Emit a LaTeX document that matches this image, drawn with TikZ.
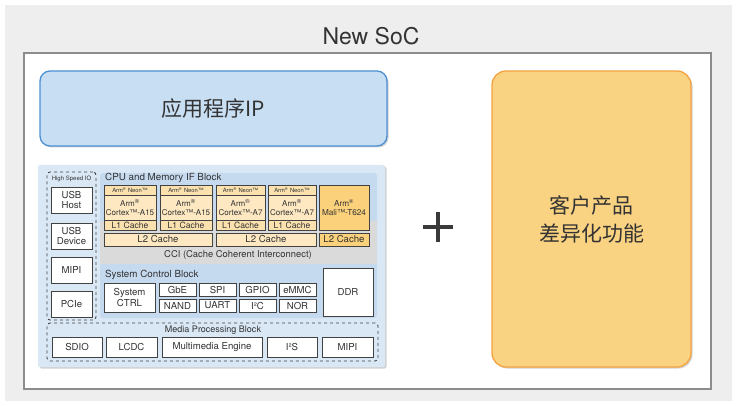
\documentclass[tikz,border=0pt]{standalone}
\usepackage{fontspec}
\setmainfont{TeX Gyre Heros}
\newfontfamily\cjk{Noto Sans CJK SC}
\usetikzlibrary{shadows}
\definecolor{bggray}{HTML}{EEEEEE}
\definecolor{frameline}{HTML}{8C8C8C}
\definecolor{bluefill}{HTML}{C8DEF3}
\definecolor{blueline}{HTML}{4C8FD3}
\definecolor{orangefill}{HTML}{FAD382}
\definecolor{orangeline}{HTML}{F4A340}
\definecolor{chipfill}{HTML}{DAE8F6}
\definecolor{cpufill}{HTML}{C5D9EF}
\definecolor{ccigray}{HTML}{DADADA}
\definecolor{corefill}{HTML}{FDE8C2}
\definecolor{neonfill}{HTML}{FBE1AE}
\definecolor{malifill}{HTML}{FBD27B}
\definecolor{linec}{HTML}{424242}
\definecolor{txt}{HTML}{333333}
\definecolor{plusgray}{HTML}{3A3A3A}
\newcommand\mybox[7]{\node[#1, minimum width={(#4)-(#2)}, minimum height={(#5)-(#3)}] (#6) at ({((#2)+(#4))/2},{((#3)+(#5))/2}) {#7};}
\tikzset{
  cell/.style={draw=linec, fill=white, line width=0.8, inner sep=0, outer sep=0, align=center, text=txt, font=\fontsize{9.6}{10.6}\selectfont},
  neoncell/.style={cell, fill=neonfill, font=\fontsize{5.8}{6}\selectfont},
  corecell/.style={cell, fill=corefill, font=\fontsize{8}{8.8}\selectfont},
  l1cell/.style={cell, fill=neonfill, font=\fontsize{8.6}{9}\selectfont},
  l2cell/.style={cell, fill=corefill, font=\fontsize{9.6}{10}\selectfont},
  malicell/.style={cell, fill=malifill, font=\fontsize{8.2}{9}\selectfont},
  dashbox/.style={draw=linec, dashed, line width=0.9, rounded corners=3, inner sep=0, outer sep=0},
  panel/.style={inner sep=0, outer sep=0},
  title/.style={inner sep=0, text=txt, font=\fontsize{9.8}{10}\selectfont},
  bigbox/.style={inner sep=0, outer sep=0, align=center, text=txt, line width=1.3},
  shad/.style={drop shadow={shadow xshift=1.5pt, shadow yshift=-1.5pt, opacity=0.18, fill=black}}
}
\begin{document}
\begin{tikzpicture}[x=1pt,y=-1pt]
\useasboundingbox (0,0) rectangle (738,406);
\fill[white] (0,0) rectangle (738,406);
\fill[bggray] (5,5) rectangle (732,401);
% frame
\mybox{panel, draw=frameline, fill=white, line width=1.2}{24}{53}{711}{389}{frame}{}
\node[text=txt, font=\fontsize{23}{24}\selectfont] (soc) at (371,36) {New SoC};
% app IP
\mybox{bigbox, shad, rounded corners=10, fill=bluefill, draw=blueline, font=\cjk\fontsize{21}{24}\selectfont}{40}{71}{387}{146}{app}{应用程序IP}
% customer
\mybox{bigbox, shad, rounded corners=14, fill=orangefill, draw=orangeline, font=\cjk\fontsize{21}{28}\selectfont}{492}{71}{691}{367}{cust}{客户产品\\差异化功能}
% plus
\draw[plusgray, line width=4.6] (423,227) -- (453,227);
\draw[plusgray, line width=4.6] (438,212) -- (438,242);
% chip panel
\mybox{panel, shad, fill=chipfill, rounded corners=2}{38}{165}{385}{367}{chip}{}
\mybox{panel, fill=cpufill, rounded corners=3}{100}{173}{377}{318}{cpu}{}
\mybox{panel, fill=ccigray}{100}{221}{377}{264}{cci}{}
\node[title, anchor=west] (cputitle) at (105,178) {CPU and Memory IF Block};
% cores
\mybox{neoncell}{104}{185}{156}{195}{n1}{Arm\textsuperscript{®} Neon™}
\mybox{neoncell}{160}{185}{212}{195}{n2}{Arm\textsuperscript{®} Neon™}
\mybox{neoncell}{216}{185}{265}{195}{n3}{Arm\textsuperscript{®} Neon™}
\mybox{neoncell}{268}{185}{316}{195}{n4}{Arm\textsuperscript{®} Neon™}
\mybox{corecell}{104}{195}{156}{220}{c1}{Arm\textsuperscript{®}\\Cortex™-A15}
\mybox{corecell}{160}{195}{212}{220}{c2}{Arm\textsuperscript{®}\\Cortex™-A15}
\mybox{corecell}{216}{195}{265}{220}{c3}{Arm\textsuperscript{®}\\Cortex™-A7}
\mybox{corecell}{268}{195}{316}{220}{c4}{Arm\textsuperscript{®}\\Cortex™-A7}
\mybox{l1cell}{104}{220}{156}{230}{l1a}{L1 Cache}
\mybox{l1cell}{160}{220}{212}{230}{l1b}{L1 Cache}
\mybox{l1cell}{216}{220}{265}{230}{l1c}{L1 Cache}
\mybox{l1cell}{268}{220}{316}{230}{l1d}{L1 Cache}
\mybox{malicell}{319}{185}{369}{230}{mali}{Arm\textsuperscript{®}\\Mali™-T624}
\mybox{l2cell}{104}{233}{212}{246}{l2a}{L2 Cache}
\mybox{l2cell}{216}{233}{316}{246}{l2b}{L2 Cache}
\mybox{l2cell, fill=malifill}{319}{233}{369}{246}{l2c}{L2 Cache}
\node[title, font=\fontsize{9.4}{10}\selectfont] (ccitext) at (238,255) {CCI (Cache Coherent Interconnect)};
% system control
\node[title, anchor=west] (systitle) at (105,275) {System Control Block};
\mybox{cell}{104}{283}{155}{312}{sysctrl}{System\\CTRL}
\mybox{cell}{159}{283}{196}{296}{gbe}{GbE}
\mybox{cell}{159}{299}{196}{312}{nand}{NAND}
\mybox{cell}{199}{283}{236}{296}{spi}{SPI}
\mybox{cell}{199}{299}{236}{312}{uart}{UART}
\mybox{cell}{239}{283}{276}{296}{gpio}{GPIO}
\mybox{cell}{239}{299}{276}{312}{i2c}{I²C}
\mybox{cell}{279}{283}{316}{296}{emmc}{eMMC}
\mybox{cell}{279}{299}{316}{312}{nor}{NOR}
\mybox{cell}{323}{268}{373}{316}{ddr}{DDR}
% high speed IO
\mybox{dashbox}{47}{172}{96}{320}{hsio}{}
\node[inner sep=0, text=txt, font=\fontsize{6}{6}\selectfont] (hstitle) at (71.5,178.5) {High Speed IO};
\mybox{cell}{51}{187}{92}{213}{usbh}{USB\\Host}
\mybox{cell}{51}{223}{92}{249}{usbd}{USB\\Device}
\mybox{cell}{51}{257}{92}{283}{mipi1}{MIPI}
\mybox{cell}{51}{291}{92}{317}{pcie}{PCIe}
% media
\mybox{dashbox}{47}{323}{378}{361}{media}{}
\node[title, font=\fontsize{9}{9}\selectfont] (mediatitle) at (213,330.5) {Media Processing Block};
\mybox{cell}{52}{337}{102}{357}{sdio}{SDIO}
\mybox{cell}{106}{337}{157}{357}{lcdc}{LCDC}
\mybox{cell}{162}{337}{262}{357}{mme}{Multimedia Engine}
\mybox{cell}{267}{337}{317}{357}{i2s}{I²S}
\mybox{cell}{322}{337}{373}{357}{mipi2}{MIPI}
\end{tikzpicture}
\end{document}
